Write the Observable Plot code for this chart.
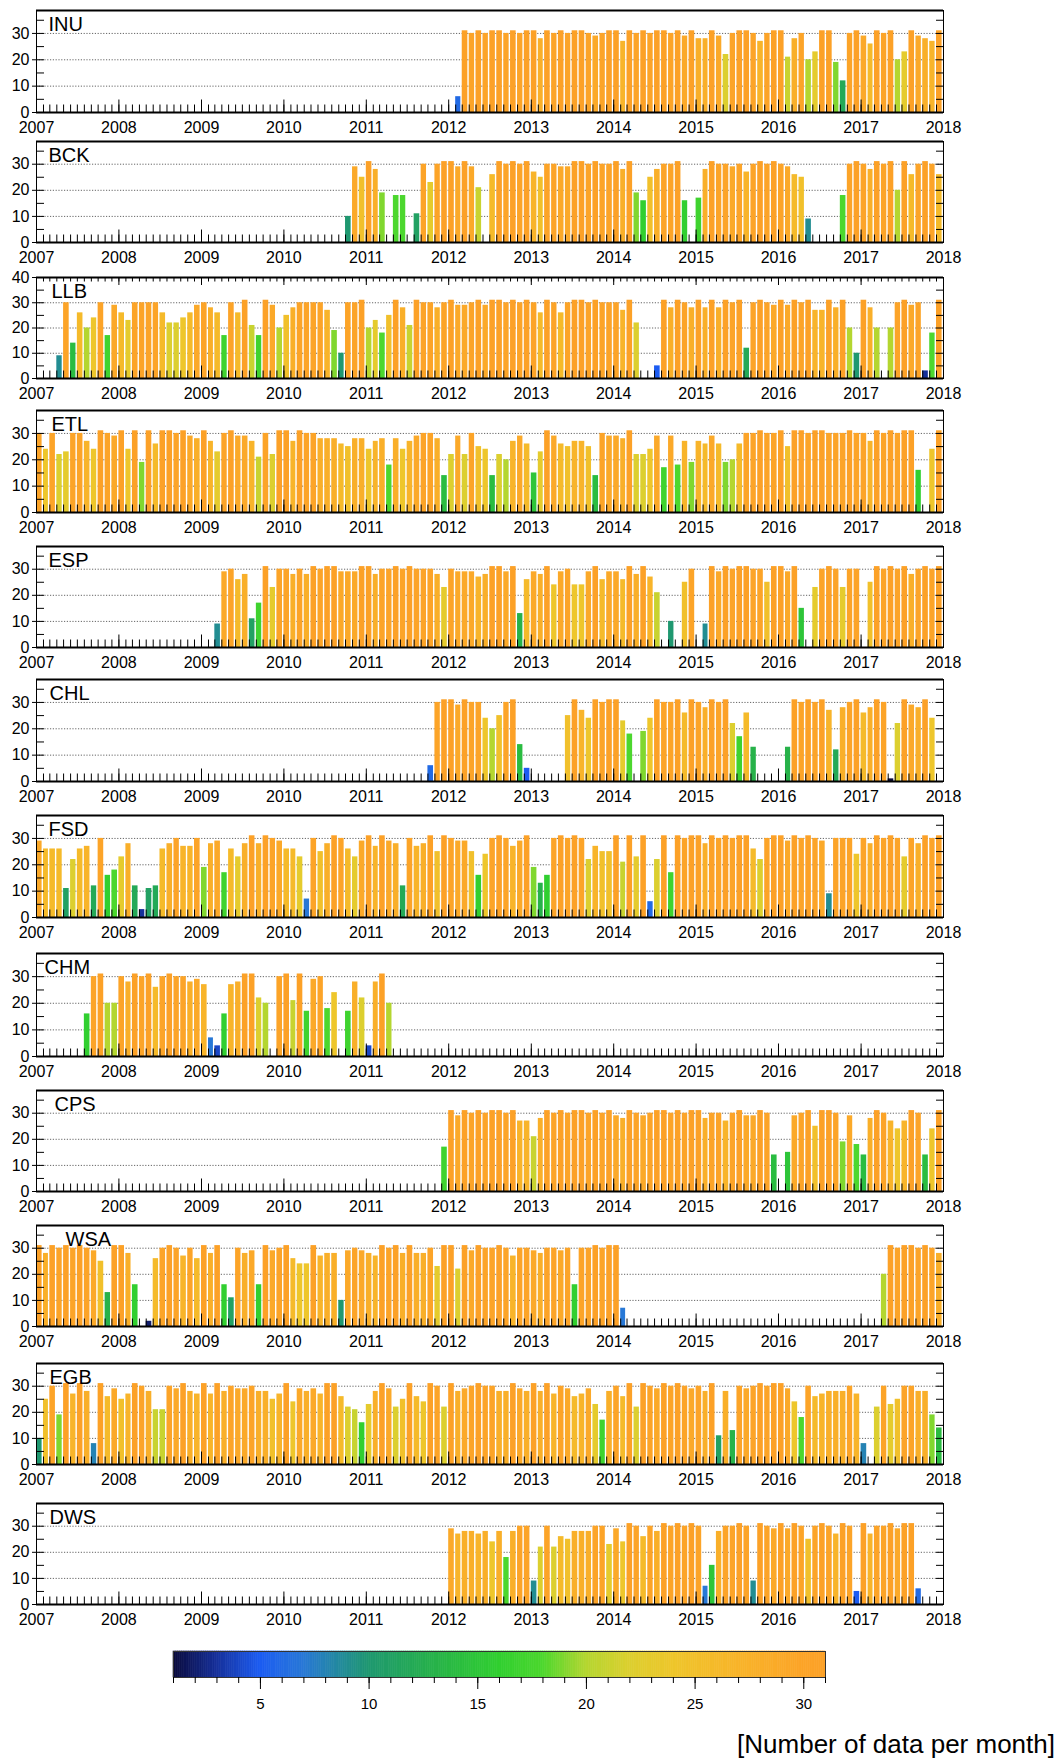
<!DOCTYPE html>
<html><head><meta charset="utf-8">
<script src="https://cdn.jsdelivr.net/npm/d3@7"></script>
<script src="https://cdn.jsdelivr.net/npm/@observablehq/plot@0.6"></script>
<style>
html,body{margin:0;padding:0;background:#fff;}
#root{position:relative;width:1059px;height:1760px;overflow:hidden;background:#fff;}
.panel{position:absolute;left:0;}
#caption{position:absolute;right:4px;top:1731px;font-family:"Liberation Sans",Arial,sans-serif;font-size:26px;line-height:1;white-space:nowrap;color:#000;}
</style></head>
<body><div id="root"></div>
<script>
// ---------- tick labels ----------
const yearLabels = [2007,2008,2009,2010,2011,2012,2013,2014,2015,2016,2017,2018];
const yTickLabels = [0,10,20,30];
const yTickLabelsLLB = [0,10,20,30,40];
const colorbarLabels = [5,10,15,20,25,30];

// ---------- colour scale (number of data per month) ----------
const colorStops = [1,3,5,7,10,13,16,18,20,22,24,27,30,31];
const colorRange = ["#0a0a3c","#16309a","#1c5cf2","#2878d6","#1f9870","#27b24a","#31cf30","#4cd72e","#b4d630","#dccf2f","#eec62b","#f8b42a","#fca428","#fca127"];

// ---------- stations ----------
const stationNames = ["INU","BCK","LLB","ETL","ESP","CHL","FSD","CHM","CPS","WSA","EGB","DWS"];

// monthly values Jan 2007 ... Dec 2017 (one row per year)
const INU = [
0,0,0,0,0,0,0,0,0,0,0,0,
0,0,0,0,0,0,0,0,0,0,0,0,
0,0,0,0,0,0,0,0,0,0,0,0,
0,0,0,0,0,0,0,0,0,0,0,0,
0,0,0,0,0,0,0,0,0,0,0,0,
0,6,31,30,31,30,31,31,30,31,30,31,
31,28,31,30,31,30,31,31,30,29,30,31,
31,27,31,30,31,30,31,31,30,31,29,31,
28,28,31,29,22,30,31,31,30,27,30,31,
31,21,28,30,20,23,31,31,19,12,30,31,
29,26,31,30,31,20,23,31,29,28,27,31];
const BCK = [
0,0,0,0,0,0,0,0,0,0,0,0,
0,0,0,0,0,0,0,0,0,0,0,0,
0,0,0,0,0,0,0,0,0,0,0,0,
0,0,0,0,0,0,0,0,0,10,29,25,
31,28,19,0,18,18,0,11,30,23,30,31,
31,29,31,29,21,0,26,31,30,31,30,31,
27,25,30,30,29,29,31,31,30,31,30,30,
31,28,31,19,16,25,28,30,30,31,16,0,
17,28,31,30,30,29,30,27,30,31,30,31,
30,29,26,25,9,0,0,0,0,18,30,31,
30,28,31,30,31,20,31,26,30,31,30,26];
const LLB = [
0,0,0,9,30,14,26,20,24,30,17,29,
26,23,30,30,30,30,26,22,22,24,26,29,
30,28,26,17,30,26,31,21,17,31,29,20,
25,28,30,30,30,30,27,19,10,30,30,31,
20,23,18,25,31,28,21,31,30,30,28,30,
31,29,29,30,31,29,31,31,30,31,30,31,
30,26,31,30,26,30,31,31,30,31,30,30,
30,27,31,22,0,0,5,31,28,31,30,28,
31,28,31,28,31,30,31,12,30,31,30,29,
31,29,31,30,31,27,27,31,28,31,20,10,
31,28,20,0,20,30,31,29,30,3,18,31];
const ETL = [
30,24,30,22,23,30,30,27,24,31,30,29,
31,24,31,19,31,26,31,31,30,31,29,28,
31,27,23,30,31,29,29,27,21,30,22,31,
31,27,31,30,30,28,28,28,26,25,28,28,
24,27,28,18,28,24,27,29,30,30,28,14,
22,29,22,30,25,24,14,22,20,27,29,26,
15,23,31,29,26,25,27,27,25,14,30,29,
29,28,31,22,22,24,29,17,29,18,27,19,
27,26,29,26,19,20,26,30,30,31,30,30,
31,25,31,31,30,31,31,30,30,30,31,30,
30,27,31,30,31,30,31,31,16,0,24,31];
const ESP = [
0,0,0,0,0,0,0,0,0,0,0,0,
0,0,0,0,0,0,0,0,0,0,0,0,
0,0,9,29,30,26,28,11,17,31,23,30,
30,28,30,28,31,30,31,31,29,29,29,31,
31,28,30,30,31,30,31,30,30,30,28,23,
30,29,29,29,27,28,31,31,29,31,13,26,
29,28,31,24,29,30,24,24,29,31,26,29,
29,26,31,28,31,27,21,0,10,0,25,30,
0,9,31,29,31,30,31,31,30,30,25,31,
31,29,31,15,0,23,30,31,30,23,30,30,
0,25,31,30,31,30,31,28,30,31,30,31];
const CHL = [
0,0,0,0,0,0,0,0,0,0,0,0,
0,0,0,0,0,0,0,0,0,0,0,0,
0,0,0,0,0,0,0,0,0,0,0,0,
0,0,0,0,0,0,0,0,0,0,0,0,
0,0,0,0,0,0,0,0,0,6,30,31,
31,29,31,30,30,24,20,25,30,31,14,5,
0,0,0,0,0,25,31,27,24,31,30,31,
31,23,18,0,19,24,31,30,30,31,26,31,
30,28,31,30,31,22,17,26,13,0,0,0,
0,13,31,30,31,30,31,27,12,28,30,31,
26,28,31,30,1,22,31,29,28,31,24,0];
const FSD = [
29,26,26,26,11,22,26,27,12,30,16,18,
23,28,12,3,11,12,26,28,30,27,27,30,
19,28,29,17,26,23,28,31,28,31,30,29,
26,26,23,7,30,25,28,31,30,26,23,29,
31,27,31,29,28,12,30,27,28,31,25,31,
30,29,29,25,16,24,30,31,30,27,29,31,
19,13,16,30,31,30,31,30,22,27,25,25,
31,21,31,23,31,6,22,31,17,31,30,31,
31,28,31,30,31,30,31,31,26,22,30,31,
31,29,31,30,31,30,29,9,30,30,30,24,
30,28,31,30,31,30,23,30,28,31,30,31];
const CHM = [
0,0,0,0,0,0,0,16,30,31,20,20,
30,28,31,30,31,26,30,31,30,30,28,29,
27,7,4,16,27,28,31,31,22,20,0,30,
31,21,31,17,29,30,18,24,0,17,28,22,
4,28,31,20,0,0,0,0,0,0,0,0,
0,0,0,0,0,0,0,0,0,0,0,0,
0,0,0,0,0,0,0,0,0,0,0,0,
0,0,0,0,0,0,0,0,0,0,0,0,
0,0,0,0,0,0,0,0,0,0,0,0,
0,0,0,0,0,0,0,0,0,0,0,0,
0,0,0,0,0,0,0,0,0,0,0,0];
const CPS = [
0,0,0,0,0,0,0,0,0,0,0,0,
0,0,0,0,0,0,0,0,0,0,0,0,
0,0,0,0,0,0,0,0,0,0,0,0,
0,0,0,0,0,0,0,0,0,0,0,0,
0,0,0,0,0,0,0,0,0,0,0,17,
31,29,31,30,31,30,31,31,30,31,27,27,
21,28,31,30,31,30,31,31,30,31,30,31,
29,28,31,30,29,30,31,31,30,31,30,31,
31,28,30,30,27,30,31,29,29,31,30,14,
0,15,29,30,31,25,31,31,30,19,29,18,
14,28,31,30,27,24,27,31,30,14,24,31];
const WSA = [
31,28,31,30,31,30,31,30,29,25,13,31,
31,28,16,0,2,26,30,31,30,27,30,26,
31,28,31,16,11,30,28,29,16,31,29,30,
31,26,24,24,31,27,28,28,10,29,30,29,
28,27,31,30,31,28,31,28,28,30,23,31,
31,22,31,29,31,30,30,31,30,27,30,30,
29,28,30,30,29,30,16,30,30,31,30,31,
31,7,0,0,0,0,0,0,0,0,0,0,
0,0,0,0,0,0,0,0,0,0,0,0,
0,0,0,0,0,0,0,0,0,0,0,0,
0,0,0,20,31,30,31,31,30,31,30,28];
const EGB = [
10,25,30,19,31,27,31,28,8,31,26,29,
25,27,31,30,28,21,21,30,29,31,28,27,
31,27,31,28,30,29,29,30,28,28,25,27,
31,24,29,28,29,27,31,31,26,22,21,16,
23,28,31,29,22,25,31,26,24,31,30,22,
31,28,29,30,31,30,30,28,28,31,29,28,
31,28,31,27,30,29,26,27,29,23,17,28,
30,26,31,22,31,30,29,31,30,31,30,29,
30,28,31,11,28,13,30,29,30,31,30,31,
31,29,24,18,30,26,27,28,28,28,30,27,
8,0,22,30,23,25,30,30,28,28,19,14];
const DWS = [
0,0,0,0,0,0,0,0,0,0,0,0,
0,0,0,0,0,0,0,0,0,0,0,0,
0,0,0,0,0,0,0,0,0,0,0,0,
0,0,0,0,0,0,0,0,0,0,0,0,
0,0,0,0,0,0,0,0,0,0,0,0,
29,27,28,28,27,28,24,28,18,28,30,30,
9,22,30,22,26,25,28,28,28,30,30,23,
29,24,31,30,26,30,28,31,30,31,30,31,
30,7,15,28,30,30,31,30,9,31,30,29,
31,29,31,30,25,30,31,30,27,31,30,5,
31,27,30,30,31,29,31,31,6,0,0,0];

const stationValues = [INU,BCK,LLB,ETL,ESP,CHL,FSD,CHM,CPS,WSA,EGB,DWS];

// ---------- layout (pixels) ----------
const frameTops    = [10,141,277,410,546,679,815,953,1090,1225,1363,1503];
const frameBottoms = [112,242,378,512,647,781,917,1056,1191,1326,1464,1604];
const labelDx      = [12,12,15,15,12,13,12,8,18,29,13,13];
const W = 1059, ML = 36, MR = 116, MT = 8, MB = 24;

const d0 = new Date(Date.UTC(2007,0,1)), d1 = new Date(Date.UTC(2018,0,1));
const months = d3.utcMonths(d0, d1);
const yearDates = yearLabels.map(y => new Date(Date.UTC(y,0,1)));
const msPerPx = (d1 - d0) / (W - ML - MR);
const leftTickEnd = new Date(+d0 + 8 * msPerPx);
const rightTickStart = new Date(+d1 - 7 * msPerPx);
const yMinor = [5,10,15,20,25,30,35];

const colorScale = {type: "linear", domain: colorStops, range: colorRange, interpolate: "rgb"};
const font = "'Liberation Sans', Arial, Helvetica, sans-serif";
const root = document.getElementById("root");

stationNames.forEach((name, k) => {
  const isLLB = name === "LLB";
  const h = frameBottoms[k] - frameTops[k];
  const ymax = isLLB ? 40 : 38.7;
  const upp = ymax / h;
  const rows = stationValues[k]
    .map((v, i) => ({x1: months[i], x2: d3.utcMonth.offset(months[i], 1), v}))
    .filter(d => d.v > 0);
  const marks = [
    Plot.ruleY([10,20,30], {stroke: "#666", strokeWidth: 1, strokeDasharray: "1.2,1.6"}),
    Plot.rect(rows, {x1: "x1", x2: "x2", y1: 0, y2: "v", fill: "v", insetRight: 1.4}),
    Plot.ruleX(months, {y1: 0, y2: 7.5 * upp, stroke: "#000", strokeWidth: 1}),
    Plot.ruleX(yearDates, {y1: 0, y2: 12.5 * upp, stroke: "#000", strokeWidth: 1}),
    Plot.ruleY(yMinor, {x1: () => d0, x2: () => leftTickEnd, stroke: "#000", strokeWidth: 1}),
    Plot.ruleY(yMinor, {x1: () => rightTickStart, x2: () => d1, stroke: "#000", strokeWidth: 1}),
    Plot.frame({stroke: "#000", strokeWidth: 1}),
    Plot.ruleY([ymax], {stroke: "#000", strokeWidth: 2.2}),
    Plot.ruleY([0], {stroke: "#000", strokeWidth: 2.2}),
    Plot.text([name], {text: d => d, frameAnchor: "top-left", lineAnchor: "top", textAnchor: "start", dx: labelDx[k], dy: 6, fontSize: 20, fill: "#000"})
  ];
  if (isLLB) {
    marks.push(Plot.ruleX(months, {y1: ymax, y2: ymax - 4.5 * upp, stroke: "#000", strokeWidth: 1}));
    marks.push(Plot.ruleX(yearDates, {y1: ymax, y2: ymax - 8 * upp, stroke: "#000", strokeWidth: 1}));
  }
  const svg = Plot.plot({
    width: W, height: MT + h + MB,
    marginLeft: ML, marginRight: MR, marginTop: MT, marginBottom: MB,
    style: {fontFamily: font, fontSize: "16px", color: "#000", background: "transparent", overflow: "visible"},
    x: {type: "utc", domain: [d0, d1], ticks: yearDates, tickFormat: d3.utcFormat("%Y"), tickSize: 0, tickPadding: 9, label: null},
    y: {domain: [0, ymax], ticks: isLLB ? yTickLabelsLLB : yTickLabels, tickSize: 4, tickPadding: 3, label: null},
    color: colorScale,
    marks
  });
  const div = document.createElement("div");
  div.className = "panel";
  div.style.top = (frameTops[k] - MT) + "px";
  div.appendChild(svg);
  root.appendChild(div);
});

// ---------- colour bar ----------
const cbTop = 1651, cbBottom = 1677, cbH = cbBottom - cbTop;
const rampSteps = d3.range(1, 31, 0.1);
const cbMinor = d3.range(1, 32);
const cb = Plot.plot({
  width: W, height: 1 + cbH + 50,
  marginLeft: 173, marginRight: W - 825, marginTop: 1, marginBottom: 50,
  style: {fontFamily: font, fontSize: "15px", color: "#000", background: "transparent", overflow: "visible"},
  x: {domain: [1, 31], ticks: colorbarLabels, tickSize: 0, tickPadding: 21, label: null},
  y: {domain: [0, 1], axis: null},
  color: colorScale,
  marks: [
    Plot.rect(rampSteps, {x1: d => d, x2: d => d + 0.1, y1: 0, y2: 1, fill: d => d + 0.05, stroke: d => d + 0.05, strokeWidth: 0.6}),
    Plot.frame({stroke: "#333", strokeWidth: 1}),
    Plot.ruleX(cbMinor, {y1: 0, y2: -6 / cbH, stroke: "#000", strokeWidth: 1}),
    Plot.ruleX(colorbarLabels, {y1: 0, y2: -12 / cbH, stroke: "#000", strokeWidth: 1})
  ]
});
const cbDiv = document.createElement("div");
cbDiv.className = "panel";
cbDiv.style.top = (cbTop - 1) + "px";
cbDiv.appendChild(cb);
root.appendChild(cbDiv);

const cap = document.createElement("div");
cap.id = "caption";
cap.textContent = "[Number of data per month]";
root.appendChild(cap);
</script>
</body></html>
